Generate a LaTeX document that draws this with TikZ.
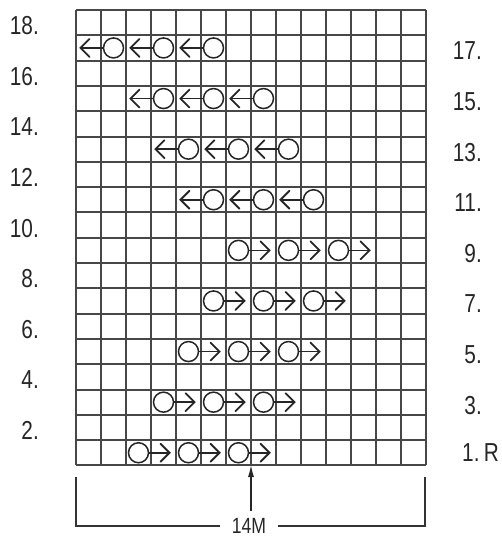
\documentclass[tikz,border=0pt]{standalone}
\usepackage{fontspec}
\newfontfamily\labfont{Liberation Sans}[FakeStretch=0.8]
\usetikzlibrary{arrows.meta}
\tikzset{
  gridline/.style={line width=1.5pt, draw=black!72},
  circ/.style={circle, draw=black!85, line width=1.5pt, minimum size=20pt, inner sep=0pt},
  arr/.style={draw=black!85, line width=1.6pt},
  barb/.style={draw=black!85, line width=1.8pt, line join=miter, line cap=round},
  lab/.style={font=\labfont\fontsize{26}{28}\selectfont, text=black!85, inner sep=0pt},
  brk/.style={line width=1.2pt, draw=black!80},
}
\begin{document}
\begin{tikzpicture}[x=1pt,y=-1pt]
\useasboundingbox (0,0) rectangle (501,538);
% grid
\foreach \i in {0,...,14}{
  \draw[gridline] (76+25*\i,10) -- (76+25*\i,465);
}
\foreach \j in {0,...,18}{
  \pgfmathsetmacro{\yy}{round(10+25.3*\j)}
  \draw[gridline] (76,\yy) -- (426,\yy);
}
% right-pointing rows: circle then arrow
\foreach \r/\s in {1/3,3/4,5/5,7/6,9/7}{
  \foreach \k in {0,1,2}{
    \pgfmathsetmacro{\cx}{76+25*(\s+2*\k-0.5)}
    \pgfmathsetmacro{\cy}{465.4-25.3*(\r-0.5)}
    \node[circ] (c\r-\k) at (\cx,\cy) {};
    \coordinate (t\r-\k) at (\cx+31,\cy);
    \draw[arr] (c\r-\k.east) -- (t\r-\k);
    \draw[barb] (t\r-\k) ++(-9,-9) -- (t\r-\k) -- ++(-9,9);
  }
}
% left-pointing rows: arrow then circle
\foreach \r/\s in {11/5,13/4,15/3,17/1}{
  \foreach \k in {0,1,2}{
    \pgfmathsetmacro{\cx}{76+25*(\s+2*\k+0.5)}
    \pgfmathsetmacro{\cy}{465.4-25.3*(\r-0.5)}
    \node[circ] (c\r-\k) at (\cx,\cy) {};
    \coordinate (t\r-\k) at (\cx-33,\cy);
    \draw[arr] (c\r-\k.west) -- (t\r-\k);
    \draw[barb] (t\r-\k) ++(9,-9) -- (t\r-\k) -- ++(9,9);
  }
}
% left labels (even rows)
\foreach \r in {2,4,...,18}{
  \pgfmathsetmacro{\cy}{465.4-25.3*(\r-0.5)+3}
  \node[lab, anchor=east] (L\r) at (39,\cy) {\r.};
}
% right labels (odd rows)
\foreach \r in {3,5,...,17}{
  \pgfmathsetmacro{\cy}{465.4-25.3*(\r-0.5)+3}
  \node[lab, anchor=east] (R\r) at (482,\cy) {\r.};
}
\node[lab, anchor=west] (R1) at (462,453) {1.\,R};
% bracket
\coordinate (bl0) at (76,477);
\coordinate (bl1) at (76,526);
\coordinate (br0) at (425,477);
\coordinate (br1) at (425,526);
\node[lab, font=\labfont\fontsize{22}{24}\selectfont, inner xsep=12pt, inner ysep=0pt] (m) at (249,526) {14M};
\draw[brk] (bl0) -- (bl1) -- (m.west);
\draw[brk] (br0) -- (br1) -- (m.east);
% pointer arrow
\coordinate (pb) at (251,511);
\coordinate (pt) at (251,465);
\draw[line width=1.2pt, draw=black!85, -{Latex[length=12pt,width=6pt]}] (pb) -- (pt);
\end{tikzpicture}
\end{document}
